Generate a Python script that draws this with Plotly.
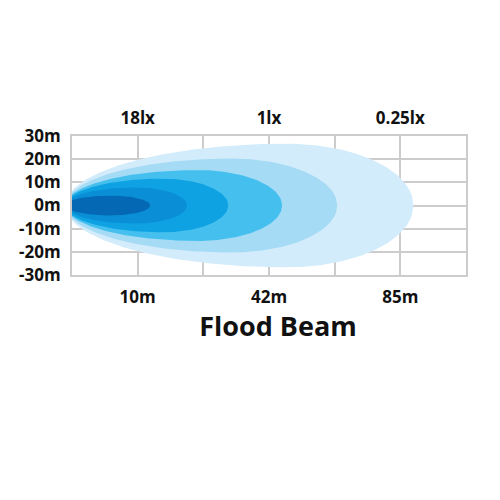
import plotly.graph_objects as go
import numpy as np

# distance columns on the grid (0..6), labelled ones only
col_ticks = [0, 1, 2, 3, 4, 5, 6]
dist_labels = ["", "10m", "", "42m", "", "85m", ""]
lux_labels = ["", "18lx", "", "1lx", "", "0.25lx", ""]
y_ticks = [30, 20, 10, 0, -10, -20, -30]
y_labels = ["30m", "20m", "10m", "0m", "-10m", "-20m", "-30m"]

# beam contours, outermost first (reach in grid columns, half width in m)
beam_reach = [5.2, 4.04, 3.2, 2.38, 1.75, 1.19]
beam_half_width = [26.7, 20.3, 15.3, 11.6, 7.8, 4.3]
beam_peak = [0.63, 0.6, 0.6, 0.58, 0.55, 0.5]  # where the beam is widest (fraction of reach)
beam_colors = ["#d3ecfb", "#a6dbf6", "#45c0ee", "#0ea2e3", "#0a8ed5", "#0568b4"]


def beam_outline(reach, half_w, peak, n=200):
    # egg shape: two half ellipses meeting at the widest point
    xc = reach * peak
    left = xc + 0.1
    x = np.linspace(-0.1, reach, n)
    a = np.where(x < xc, left, reach - xc)
    u = np.clip((x - xc) / a, -1, 1)
    h = half_w * np.sqrt(1 - u ** 2)
    xs = np.concatenate([x, x[::-1]])
    ys = np.concatenate([h, -h[::-1]])
    return xs, ys


fig = go.Figure()

for r, w, p, c in zip(beam_reach, beam_half_width, beam_peak, beam_colors):
    bx, by = beam_outline(r, w, p)
    fig.add_trace(go.Scatter(
        x=bx, y=by, mode='lines', fill='toself',
        fillcolor=c, line=dict(width=0, color=c),
        hoverinfo='skip', showlegend=False
    ))

# invisible trace so the top axis is drawn
fig.add_trace(go.Scatter(x=[0, 6], y=[0, 0], xaxis='x2', mode='markers',
                         marker=dict(opacity=0), showlegend=False, hoverinfo='skip'))

grid = "#cccccc"
tick_font = dict(family="Open Sans", size=17, color="#111111", weight="bold")

fig.update_layout(
    width=500, height=500,
    margin=dict(l=64, r=42, t=128, b=233),
    paper_bgcolor="white",
    plot_bgcolor="white",
    title=dict(text="Flood Beam", x=0.54, y=0.362, xref="container", yref="container",
               xanchor="center", yanchor="middle", automargin=False,
               font=dict(family="Open Sans", size=27, color="#111111", weight="bold")),
    xaxis=dict(range=[0, 6], tickvals=col_ticks, ticktext=dist_labels,
               showgrid=True, gridcolor=grid, gridwidth=2,
               showline=True, linecolor=grid, linewidth=2, mirror=True,
               ticks="outside", ticklen=6, tickcolor="rgba(0,0,0,0)",
               tickfont=tick_font, zeroline=False, layer="below traces",
               automargin=False),
    xaxis2=dict(range=[0, 6], overlaying='x', side='top', tickvals=col_ticks,
                ticktext=lux_labels, showgrid=False, zeroline=False,
                ticks="outside", ticklen=4, tickcolor="rgba(0,0,0,0)",
                tickfont=tick_font, automargin=False),
    yaxis=dict(range=[-30, 30], tickvals=y_ticks, ticktext=y_labels,
               showgrid=True, gridcolor=grid, gridwidth=2,
               showline=True, linecolor=grid, linewidth=2, mirror=True,
               ticks="outside", ticklen=6, tickcolor="rgba(0,0,0,0)",
               tickfont=tick_font, zeroline=False, automargin=False),
)

fig.write_html("out.html")
